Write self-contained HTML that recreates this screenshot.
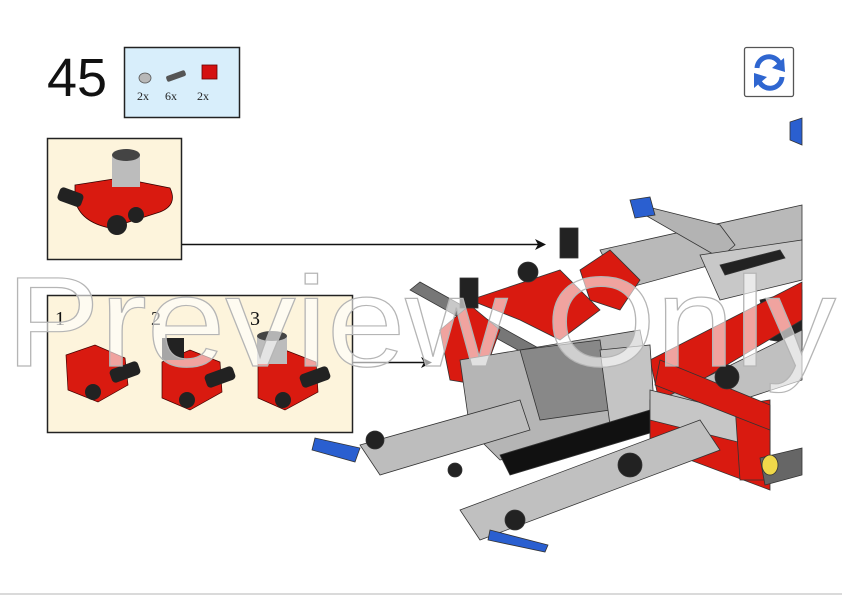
<!DOCTYPE html>
<html><head><meta charset="utf-8"><style>
html,body{margin:0;padding:0;background:#fff;}
body{width:842px;height:595px;overflow:hidden;position:relative;font-family:"Liberation Sans",sans-serif;}
</style></head><body>
<svg width="842" height="595" viewBox="0 0 842 595" xmlns="http://www.w3.org/2000/svg" style="position:absolute;left:0;top:0">
<text x="47" y="96" font-family="Liberation Sans, sans-serif" font-size="54" fill="#111">45</text>
<rect x="124.5" y="47.5" width="115" height="70" fill="#d8eefb" stroke="#222" stroke-width="1.5"/>
<ellipse cx="145" cy="78" rx="6" ry="5" fill="#b8b8b8" stroke="#555" stroke-width="0.8"/>
<rect x="166" y="73" width="20" height="6" rx="2" fill="#555" transform="rotate(-20 176 76)"/>
<rect x="202" y="65" width="15" height="14" fill="#d41010" stroke="#600" stroke-width="0.8"/>
<text x="137" y="100" font-family="Liberation Serif, serif" font-size="12" fill="#222">2x</text>
<text x="165" y="100" font-family="Liberation Serif, serif" font-size="12" fill="#222">6x</text>
<text x="197" y="100" font-family="Liberation Serif, serif" font-size="12" fill="#222">2x</text>
<rect x="744.5" y="47.5" width="49" height="49" rx="2" fill="#fff" stroke="#555" stroke-width="1.3"/>
<path d="M757 68 A12 12 0 0 1 780 64" fill="none" stroke="#2f66d0" stroke-width="5"/>
<polygon points="784,58 785,72 772,68" fill="#2f66d0"/>
<path d="M782 77 A12 12 0 0 1 759 81" fill="none" stroke="#2f66d0" stroke-width="5"/>
<polygon points="754,88 754,73 767,77" fill="#2f66d0"/>

<rect x="47.5" y="138.5" width="134" height="121" fill="#fdf4dc" stroke="#222" stroke-width="1.5"/>
<path d="M75 185 L120 178 L170 188 Q178 205 160 212 L110 228 Q80 222 75 200 Z" fill="#d91a10" stroke="#300" stroke-width="0.8"/>
<rect x="112" y="155" width="28" height="32" fill="#bcbcbc"/>
<ellipse cx="126" cy="155" rx="14" ry="6" fill="#444"/>
<rect x="58" y="190" width="25" height="14" rx="4" fill="#222" transform="rotate(20 70 197)"/>
<circle cx="117" cy="225" r="10" fill="#222"/><circle cx="136" cy="215" r="8" fill="#222"/>
<line x1="182" y1="244.5" x2="540" y2="244.5" stroke="#111" stroke-width="1.5"/>
<polygon points="546,244.5 535,239 538,244.5 535,250" fill="#111"/>

<line x1="182" y1="296" x2="352" y2="296" stroke="#222" stroke-width="1.5"/>
<rect x="47.5" y="295.5" width="305" height="137" fill="#fdf4dc" stroke="#222" stroke-width="1.5"/>
<text x="55" y="325" font-family="Liberation Serif, serif" font-size="20" fill="#111">1</text>
<text x="151" y="325" font-family="Liberation Serif, serif" font-size="20" fill="#111">2</text>
<text x="250" y="325" font-family="Liberation Serif, serif" font-size="20" fill="#111">3</text>
<g fill="#d91a10" stroke="#400" stroke-width="0.7">
<path d="M66 355 L95 345 L125 358 L128 385 L98 402 L68 390 Z"/>
<path d="M162 362 L190 350 L220 362 L222 392 L190 410 L162 398 Z"/>
<path d="M258 362 L285 350 L316 362 L318 392 L285 410 L258 398 Z"/>
</g>
<rect x="110" y="365" width="30" height="14" rx="4" fill="#222" transform="rotate(-20 125 372)"/>
<rect x="205" y="370" width="30" height="14" rx="4" fill="#222" transform="rotate(-20 220 377)"/>
<rect x="300" y="370" width="30" height="14" rx="4" fill="#222" transform="rotate(-20 315 377)"/>
<circle cx="93" cy="392" r="8" fill="#222"/><circle cx="187" cy="400" r="8" fill="#222"/><circle cx="283" cy="400" r="8" fill="#222"/>
<rect x="162" y="338" width="22" height="22" fill="#222"/>
<rect x="257" y="336" width="30" height="28" fill="#bcbcbc"/><ellipse cx="272" cy="336" rx="15" ry="5" fill="#444"/>
<line x1="352" y1="362.5" x2="426" y2="362.5" stroke="#111" stroke-width="1.5"/>
<polygon points="432,362.5 421,357 424,362.5 421,368" fill="#111"/>

<!-- model -->
<g stroke="#333" stroke-width="0.8">
<polygon points="410,290 420,282 560,360 550,368" fill="#777"/>
<polygon points="600,250 802,205 802,240 620,290" fill="#b9b9b9"/>
<polygon points="640,205 720,225 735,245 720,258 645,215" fill="#b3b3b3"/>
<polygon points="630,200 650,197 655,215 635,218" fill="#2a5fd0"/>
<polygon points="700,255 802,240 802,280 720,300" fill="#c8c8c8"/>
<polygon points="720,265 780,250 785,258 725,275" fill="#222"/>
<polygon points="760,300 802,290 802,345 770,340" fill="#222"/>
<polygon points="650,360 802,282 802,320 660,405" fill="#d91a10"/>
<polygon points="660,400 802,330 802,380 680,420" fill="#c0c0c0"/>
<polygon points="470,300 560,270 600,310 560,340 520,320" fill="#d91a10"/>
<polygon points="440,330 470,305 500,330 480,385 450,380" fill="#d91a10"/>
<polygon points="580,270 610,250 640,280 620,310 590,300" fill="#d91a10"/>
<polygon points="460,360 640,330 660,430 500,460 470,430" fill="#b5b5b5"/>
<polygon points="520,350 600,340 610,410 540,420" fill="#888"/>
<polygon points="600,350 650,345 655,420 610,425" fill="#c4c4c4"/>
<polygon points="500,455 650,410 660,430 510,475" fill="#111"/>
<polygon points="360,445 520,400 530,430 380,475" fill="#bdbdbd"/>
<polygon points="650,400 770,440 770,490 650,445" fill="#d91a10"/>
<polygon points="650,390 770,420 770,450 650,420" fill="#c6c6c6"/>
<polygon points="735,405 770,400 770,480 740,480" fill="#d91a10"/>
<polygon points="660,360 770,405 770,430 655,385" fill="#d91a10"/>
<polygon points="460,510 700,420 720,450 480,540" fill="#c0c0c0"/>
<polygon points="760,458 802,448 802,475 765,485" fill="#666"/>
<ellipse cx="770" cy="465" rx="8" ry="10" fill="#f0d84a"/>
<polygon points="315,438 360,448 355,462 312,450" fill="#2a5fd0"/>
<polygon points="490,530 548,545 545,552 488,540" fill="#2a5fd0"/>
<polygon points="790,122 802,118 802,145 790,140" fill="#2a5fd0"/>
<circle cx="528" cy="272" r="10" fill="#222"/><circle cx="515" cy="520" r="10" fill="#222"/>
<circle cx="630" cy="465" r="12" fill="#222"/><circle cx="727" cy="377" r="12" fill="#222"/>
<rect x="560" y="228" width="18" height="30" fill="#222"/>
<rect x="460" y="278" width="18" height="30" fill="#222"/>
<circle cx="375" cy="440" r="9" fill="#222"/><circle cx="455" cy="470" r="7" fill="#222"/>
</g>

<text x="421" y="366" text-anchor="middle" font-family="Liberation Sans, sans-serif" font-size="128" fill="rgba(255,255,255,0.6)" stroke="#b5b5b5" stroke-width="1.2" textLength="830" lengthAdjust="spacingAndGlyphs">Preview Only</text>
<rect x="0" y="593" width="842" height="2" fill="#dadada"/>
</svg>
</body></html>
